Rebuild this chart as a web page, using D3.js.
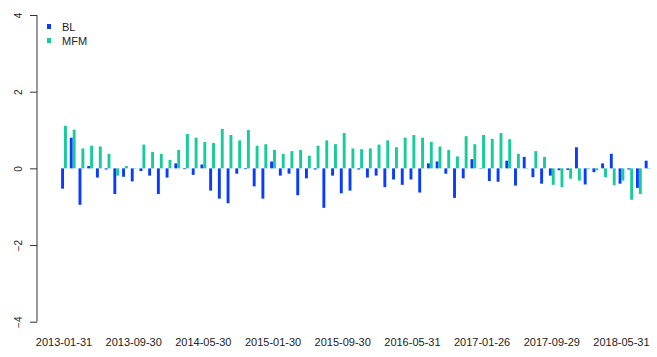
<!DOCTYPE html>
<html>
<head>
<meta charset="utf-8">
<script src="https://cdn.jsdelivr.net/npm/d3@7"></script>
<style>
  body { margin: 0; background: #fff; }
  text { font-family: "Liberation Sans", Arial, sans-serif; }
</style>
</head>
<body>
<div id="chart"></div>
<script>
// monthly values, 2013-01 .. 2018-08 (68 months)
const bl = [-0.53, 0.80, -0.95, 0.06, -0.24, -0.03, -0.67, -0.22, -0.34, -0.07,
            -0.19, -0.67, -0.24, 0.13, -0.02, -0.17, 0.10, -0.58, -0.79, -0.91,
            -0.14, -0.02, -0.47, -0.79, 0.18, -0.19, -0.14, -0.70, -0.26, -0.03,
            -1.03, -0.19, -0.65, -0.58, -0.03, -0.24, -0.19, -0.49, -0.29, -0.43,
            -0.29, -0.63, 0.13, 0.18, -0.14, -0.77, -0.26, 0.24, -0.01, -0.33,
            -0.35, 0.20, -0.45, 0.30, -0.23, -0.40, -0.19, -0.05, -0.04, 0.55,
            -0.42, -0.10, 0.13, 0.38, -0.40, -0.03, -0.51, 0.20];
const mfm = [1.11, 1.01, 0.52, 0.59, 0.57, 0.38, -0.19, 0.06, -0.01, 0.62,
             0.43, 0.38, 0.22, 0.48, 0.90, 0.80, 0.69, 0.66, 1.03, 0.87,
             0.73, 1.00, 0.59, 0.63, 0.48, 0.38, 0.45, 0.48, 0.33, 0.59,
             0.73, 0.63, 0.92, 0.52, 0.50, 0.52, 0.62, 0.73, 0.55, 0.80,
             0.87, 0.80, 0.69, 0.57, 0.48, 0.31, 0.84, 0.63, 0.87, 0.77,
             0.92, 0.76, 0.38, 0.01, 0.45, 0.30, -0.43, -0.49, -0.27, -0.32,
             -0.02, -0.05, -0.23, -0.44, -0.32, -0.82, -0.67, -0.01];
// only every 8th date fits under the bars
const tickLabels = ["2013-01-31", "2013-09-30", "2014-05-30", "2015-01-30", "2015-09-30",
                    "2016-05-31", "2017-01-26", "2017-09-29", "2018-05-31"];
const tickEvery = 8;
const yTicks = [-4, -2, 0, 2, 4];
const seriesNames = ["BL", "MFM"];
const colors = ["#0a3cff", "#17cc9c"];

const width = 657, height = 357;

// barplot units: each month is 2 bars + 1 gap, group centre at 2 + 3*i
const x = d3.scaleLinear().domain([2, 2 + 3 * (bl.length - 1)]).range([64, 647.6]);
const y = d3.scaleLinear().domain([-4, 4]).range([321.7, 15]);
const unit = x(1) - x(0);

const svg = d3.select("#chart").append("svg")
    .attr("width", width)
    .attr("height", height);

const series = [bl, mfm];
series.forEach((vals, s) => {
    svg.append("g").selectAll("rect")
        .data(vals).enter()
        .append("rect")
        .attr("x", (d, i) => x(1 + 3 * i + s))
        .attr("width", unit)
        .attr("y", d => y(Math.max(0, d)))
        .attr("height", d => Math.abs(y(d) - y(0)))
        .attr("fill", colors[s]);
});

// y axis, R style (rotated labels)
const yAxis = d3.axisLeft(y).tickValues(yTicks).tickSize(7).tickPadding(8).tickFormat(d3.format("d"));
const ya = svg.append("g").attr("transform", "translate(37,0)").call(yAxis);
ya.select(".domain").attr("d", "M0," + y(-4) + "V" + y(4)).attr("stroke", "#333");
ya.selectAll(".tick line").attr("stroke", "#333");
ya.selectAll(".tick text")
    .attr("x", null).attr("dy", null)
    .attr("transform", "translate(-15.5,0) rotate(-90)")
    .attr("text-anchor", "middle")
    .attr("font-size", "10px")
    .attr("fill", "#222");

// x labels, no axis line
svg.append("g").selectAll("text")
    .data(tickLabels).enter()
    .append("text")
    .attr("x", (d, i) => x(2 + 3 * i * tickEvery))
    .attr("y", 346)
    .attr("text-anchor", "middle")
    .attr("font-size", "11px")
    .attr("fill", "#222")
    .text(d => d);

// legend
const legend = svg.append("g").selectAll("g")
    .data(seriesNames).enter()
    .append("g")
    .attr("transform", (d, i) => "translate(47," + (24 + i * 14) + ")");
legend.append("rect").attr("width", 4).attr("height", 5).attr("fill", (d, i) => colors[i]);
legend.append("text").attr("x", 15).attr("y", 6.5).attr("font-size", "11px").attr("fill", "#222").text(d => d);
</script>
</body>
</html>
